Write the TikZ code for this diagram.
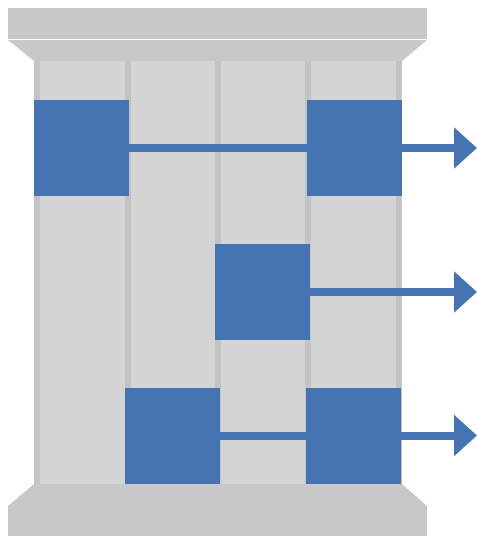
\documentclass[tikz,border=0pt]{standalone}
\usetikzlibrary{arrows.meta}
\definecolor{capgray}{RGB}{200,200,200}
\definecolor{divgray}{RGB}{195,195,195}
\definecolor{colgray}{RGB}{212,212,212}
\definecolor{bblue}{RGB}{68,117,178}
\tikzset{
  bsq/.style={fill=bblue, draw=none, minimum width=95pt, minimum height=96pt, inner sep=0pt, outer sep=0pt},
  link/.style={draw=bblue, line width=8pt},
  outarrow/.style={draw=bblue, line width=8pt, -{Triangle[length=23pt,width=40pt]}},
}
\begin{document}
\begin{tikzpicture}[x=1pt,y=-1pt]
\useasboundingbox (0,0) rectangle (477,536);
% top cap
\fill[capgray] (8,8) rectangle (427,39);
\fill[capgray] (8,40) -- (427,40) -- (402,61) -- (34,61) -- cycle;
% columns
\fill[divgray] (34,61) rectangle (402,484);
\foreach \a/\b in {40/125,131/215,221/305,311/396}
  \fill[colgray] (\a,61) rectangle (\b,484);
% bottom base
\fill[capgray] (34,484) -- (402,484) -- (427,506) -- (8,506) -- cycle;
\fill[capgray] (8,506) rectangle (427,536);
% squares
\node[bsq] (s1) at (81.5,148) {};
\node[bsq] (s2) at (354.5,148) {};
\node[bsq] (s3) at (262.5,292) {};
\node[bsq] (s4) at (172.5,435.5) {};
\node[bsq] (s5) at (353.5,435.5) {};
\coordinate (e1) at (477,148);
\coordinate (e2) at (477,292);
\coordinate (e3) at (477,435.5);
% connectors
\draw[link] (s1.east) -- (s2.west);
\draw[link] (s4.east) -- (s5.west);
\draw[outarrow] (s2.east) -- (e1);
\draw[outarrow] (s3.east) -- (e2);
\draw[outarrow] (s5.east) -- (e3);
\end{tikzpicture}
\end{document}
